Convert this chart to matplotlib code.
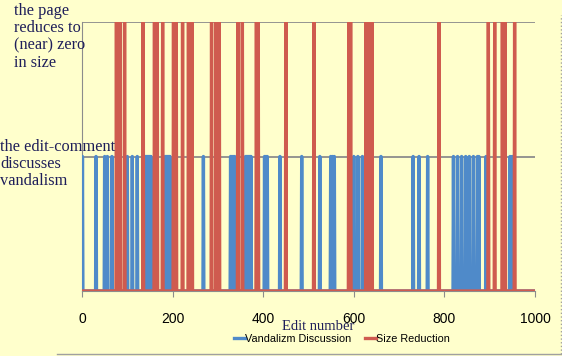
import numpy as np
import matplotlib.pyplot as plt
from matplotlib.lines import Line2D

# edit numbers where the edit-comment talks about vandalism
vandalism_edits = [1, 31, 50, 56, 66, 100, 111, 122,
                   140, 142, 144, 146, 148, 150, 152,
                   184, 186, 188, 190, 192, 194, 268,
                   328, 331, 334, 337, 361, 363, 365, 367, 369, 371, 373,
                   403, 406, 409, 437, 485, 525, 549, 553, 557,
                   600, 609, 619, 660, 731, 744, 763,
                   820, 829, 838, 847, 855, 864, 873, 876, 892, 945, 950]
# edit numbers where the page shrinks to (near) zero
reduction_edits = [76, 78, 80, 82, 84, 94, 135, 160, 162, 164, 166, 178,
                   202, 204, 206, 208, 222, 235, 237, 239, 241, 243,
                   286, 296, 303, 344, 354, 385, 387, 389, 450, 512,
                   589, 591, 593, 627, 629, 631, 640, 788, 897, 911,
                   928, 930, 932, 934, 955]
n_edits = 1000
x_ticks = [0, 200, 400, 600, 800, 1000]

BG = "#FFFFCC"
NAVY = "#1E1E5A"
BLUE = "#4F8AC9"
RED = "#CF5B4F"
GRID = "#8C8C8C"

edits = np.arange(n_edits + 1)
vand = np.zeros(n_edits + 1)
vand[vandalism_edits] = 1
red = np.zeros(n_edits + 1)
red[reduction_edits] = 2

fig = plt.figure(figsize=(5.62, 3.56), dpi=100, facecolor=BG)
ax = fig.add_axes([82/562, 1-291/356, (535-82)/562, (291-22)/356])
ax.set_facecolor(BG)

ax.plot(edits, vand, color=BLUE, lw=2.4, label="Vandalizm Discussion", zorder=3)
ax.plot(edits, red, color=RED, lw=2.4, label="Size Reduction", zorder=4)

ax.set_xlim(0, n_edits)
ax.set_ylim(0, 2)
ax.set_xticks(x_ticks)
ax.set_yticks([1, 2])
ax.set_yticklabels([])
ax.yaxis.grid(True, color=GRID, lw=1.3, zorder=1)
ax.tick_params(axis="y", length=0)
ax.tick_params(axis="x", direction="out", length=4, color=GRID, pad=11,
               labelsize=10)
for lab in ax.get_xticklabels():
    lab.set_family("Liberation Sans")
for s in ["top", "right"]:
    ax.spines[s].set_visible(False)
ax.spines["left"].set_color(GRID)
ax.spines["bottom"].set_color(GRID)

# labels on the left, written by hand in the original slide
fig.text(14/562, 1-3/356, "the page\nreduces to\n(near) zero\nin size",
         family="Liberation Serif", fontsize=11.8, color=NAVY,
         va="top", ha="left", linespacing=1.1)
fig.text(0, 1-139/356, "the edit-comment\ndiscusses\nvandalism",
         family="Liberation Serif", fontsize=11.8, color=NAVY,
         va="top", ha="left", linespacing=1.1)
fig.text(318/562, 1-330/356, "Edit number", family="Liberation Serif",
         fontsize=10.5, color=NAVY, ha="center", va="baseline")

leg = fig.legend(loc="center", bbox_to_anchor=(342/562, 1-339/356), ncol=2,
                 frameon=False, handlelength=1.0,
                 handletextpad=0.05, columnspacing=1.2,
                 prop={"family": "Liberation Sans", "size": 7.8})

# slide frame pieces
fig.add_artist(Line2D([57/562, 1], [1-354/356, 1-354/356], color="#A0A0A0",
                      lw=1, transform=fig.transFigure))
fig.add_artist(Line2D([561/562, 561/562], [1-354/356, 1-15/356],
                      color="#A0A0A0", lw=1, ls=":", transform=fig.transFigure))

fig.savefig("out.png", dpi=100, facecolor=BG)
